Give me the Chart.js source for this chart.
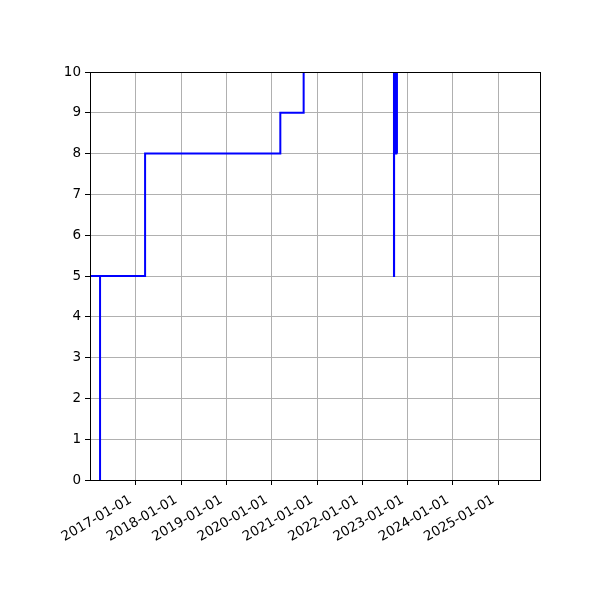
<!DOCTYPE html>
<html>
<head>
<meta charset="utf-8">
<script src="https://cdn.jsdelivr.net/npm/chart.js@4/dist/chart.umd.min.js"></script>
<style>
  body { margin: 0; background: #fff; }
</style>
</head>
<body>
<canvas id="stepChart" width="600" height="600"></canvas>
<script>
// dates of each change and the value that holds from that date on
const changeDates = [
    '2015-06-01', '2016-03-19', '2016-03-19', '2017-03-17', '2020-03-11',
    '2020-09-15', '2022-09-13', '2022-09-14', '2022-09-19', '2022-09-20',
    '2022-09-25', '2022-09-26', '2022-10-01', '2022-10-02', '2022-10-07'
];
const levels = [5, 0, 5, 8, 9, 11, 5, 11, 8, 11, 8, 11, 8, 11, 8];

const tickLabels = [
    '2017-01-01', '2018-01-01', '2019-01-01', '2020-01-01', '2021-01-01',
    '2022-01-01', '2023-01-01', '2024-01-01', '2025-01-01'
];
const xRange = ['2015-12-29', '2025-12-03'];
const yTicks = [0, 1, 2, 3, 4, 5, 6, 7, 8, 9, 10];

const points = changeDates.map((d, i) => ({ x: Date.parse(d), y: levels[i] }));

function fmtDate(ms) {
    return new Date(ms).toISOString().slice(0, 10);
}

// matplotlib-like box round the axes
const frame = {
    id: 'frame',
    afterDatasetsDraw(chart) {
        const a = chart.chartArea;
        const ctx = chart.ctx;
        ctx.save();
        ctx.strokeStyle = '#000';
        ctx.lineWidth = 1;
        ctx.strokeRect(Math.round(a.left) + 0.5, Math.round(a.top) + 0.5,
            Math.round(a.right - a.left), Math.round(a.bottom - a.top));
        ctx.restore();
    }
};

new Chart(document.getElementById('stepChart'), {
    type: 'line',
    data: {
        datasets: [{
            data: points,
            borderColor: '#0000ff',
            borderWidth: 2,
            stepped: true,
            pointRadius: 0,
            fill: false,
            clip: 0
        }]
    },
    options: {
        responsive: false,
        animation: false,
        devicePixelRatio: 1,
        layout: { padding: { top: 72, right: 60, left: 0, bottom: 0 } },
        plugins: { legend: { display: false }, tooltip: { enabled: false } },
        scales: {
            x: {
                type: 'linear',
                min: Date.parse(xRange[0]),
                max: Date.parse(xRange[1]),
                afterBuildTicks(scale) {
                    scale.ticks = tickLabels.map(t => ({ value: Date.parse(t) }));
                },
                afterFit(scale) { scale.height = 120; },
                grid: { color: '#b0b0b0', lineWidth: 1, tickColor: '#000', tickLength: 5 },
                border: { display: false },
                ticks: {
                    autoSkip: false,
                    minRotation: 30,
                    maxRotation: 30,
                    padding: 7,
                    labelOffset: -5,
                    color: '#000',
                    font: { family: 'DejaVu Sans', size: 13.5 },
                    callback: v => fmtDate(v)
                }
            },
            y: {
                min: 0,
                max: 10,
                afterBuildTicks(scale) {
                    scale.ticks = yTicks.map(v => ({ value: v }));
                },
                afterFit(scale) { scale.width = 90; },
                grid: { color: '#b0b0b0', lineWidth: 1, tickColor: '#000', tickLength: 5 },
                border: { display: false },
                ticks: {
                    padding: 4,
                    color: '#000',
                    font: { family: 'DejaVu Sans', size: 13.5 }
                }
            }
        }
    },
    plugins: [frame]
});
</script>
</body>
</html>
